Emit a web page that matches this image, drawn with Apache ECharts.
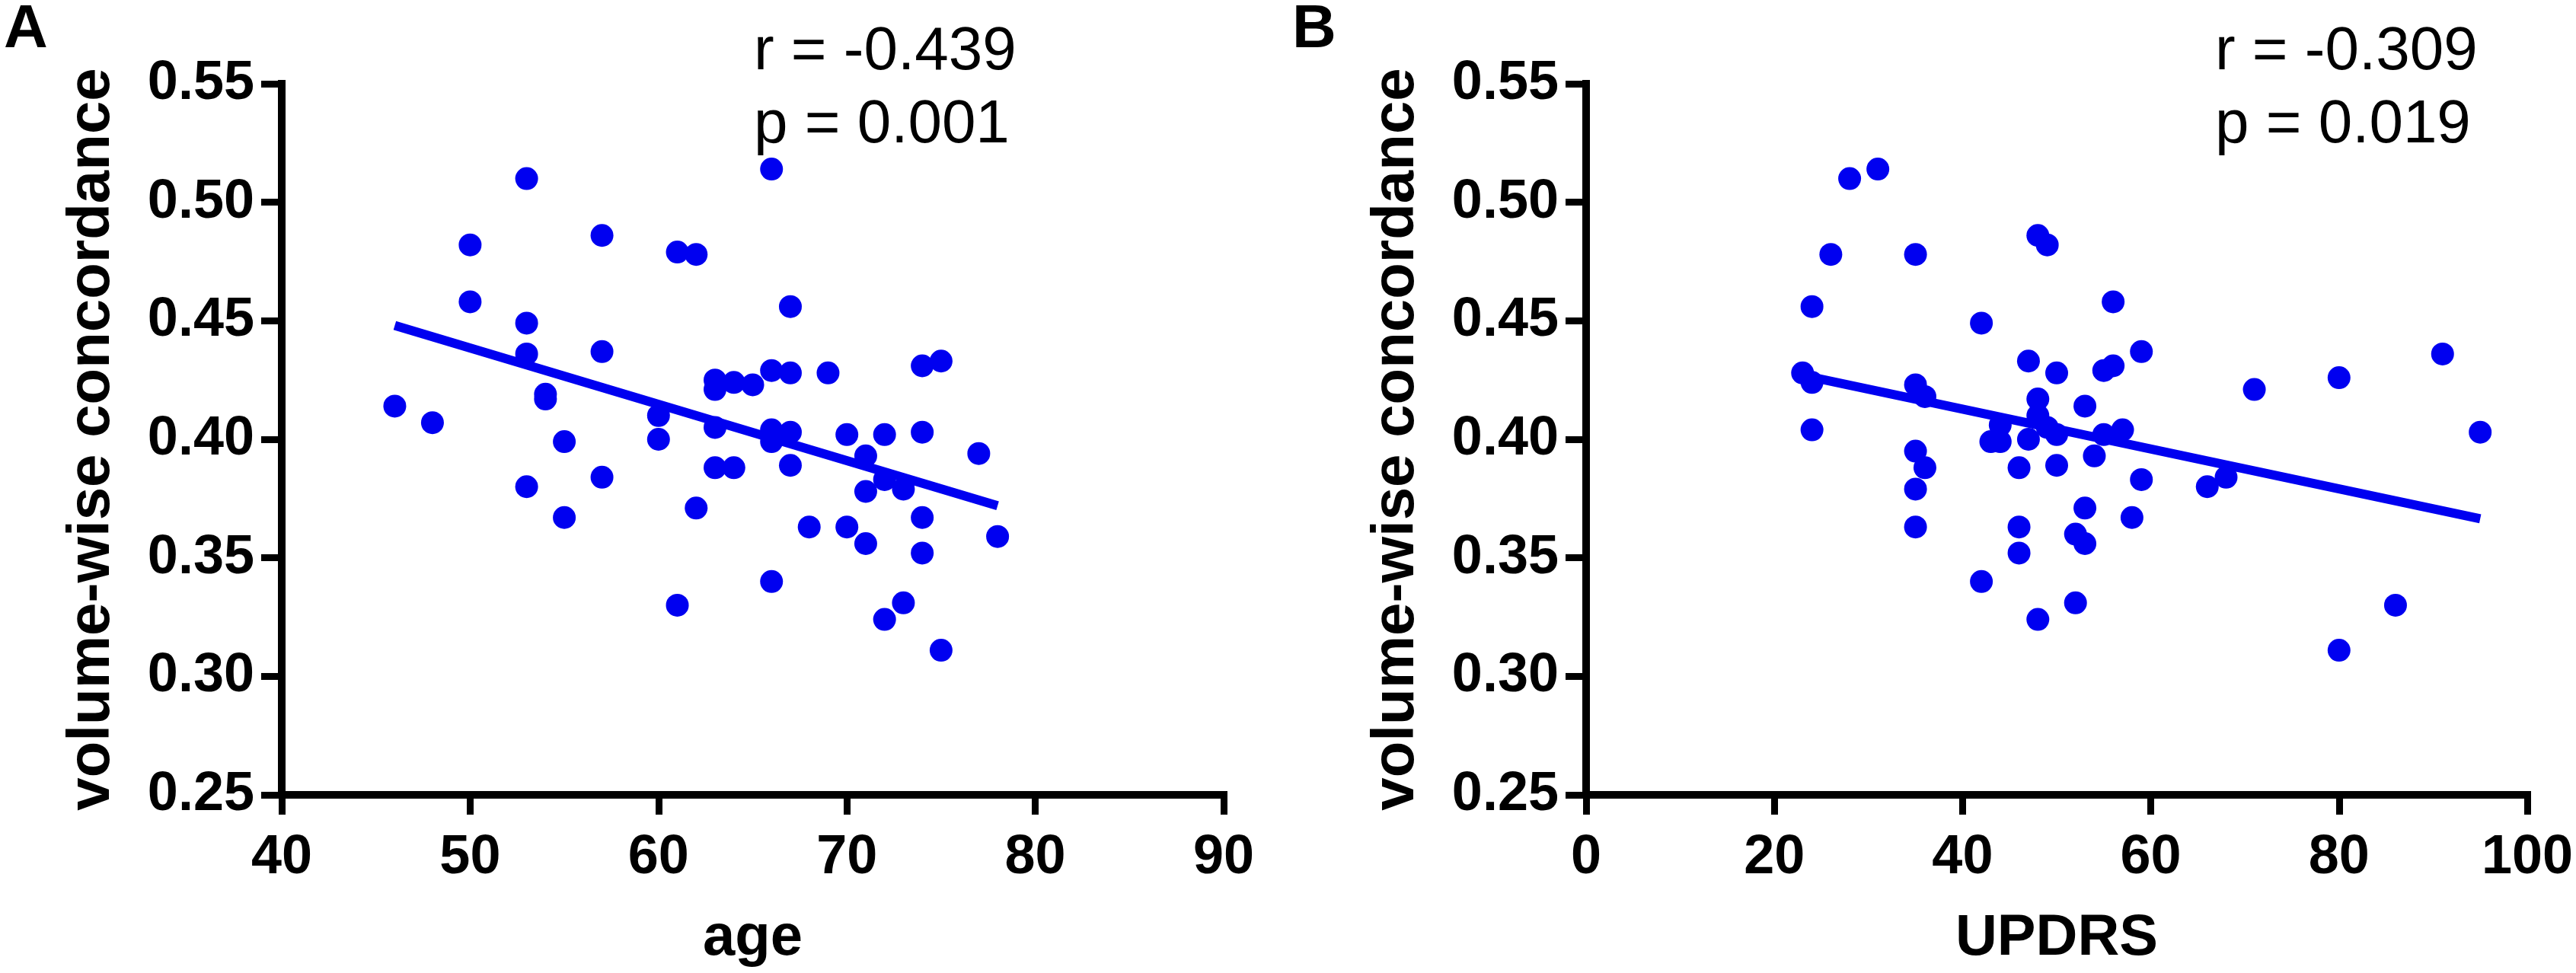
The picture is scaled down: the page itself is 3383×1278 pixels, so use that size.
<!DOCTYPE html>
<html>
<head>
<meta charset="utf-8">
<script src="https://cdn.jsdelivr.net/npm/echarts@6/dist/echarts.min.js"></script>
<style>
  html, body { margin: 0; padding: 0; background: #ffffff; }
  #chart { width: 3383px; height: 1278px; }
</style>
</head>
<body>
<div id="chart"></div>
<script>
// Panel A: age vs volume-wise concordance
const ageA = [46, 48, 50, 50, 53, 53, 53, 53, 54, 54, 55, 55, 57, 57, 57, 60, 60, 61, 61, 62, 62,
  63, 63, 63, 63, 64, 64, 65, 66, 66, 66, 66, 66, 67, 67, 67, 67, 68, 69, 70, 70, 71, 71, 71,
  72, 72, 72, 73, 73, 74, 74, 74, 74, 75, 75, 77, 78];
const concordA = [0.414, 0.407, 0.482, 0.458, 0.510, 0.449, 0.436, 0.380, 0.419, 0.417, 0.399, 0.367,
  0.486, 0.437, 0.384, 0.410, 0.400, 0.479, 0.330, 0.478, 0.371,
  0.425, 0.421, 0.405, 0.388, 0.424, 0.388, 0.423, 0.514, 0.429, 0.404, 0.399, 0.340,
  0.456, 0.428, 0.403, 0.389, 0.363, 0.428, 0.402, 0.363, 0.393, 0.378, 0.356,
  0.402, 0.383, 0.324, 0.379, 0.331, 0.431, 0.403, 0.367, 0.352, 0.433, 0.311, 0.394, 0.359];
const fitA = [[46, 0.448], [78, 0.372]];
const statsA = ['r = -0.439', 'p = 0.001'];

// Panel B: UPDRS vs volume-wise concordance
const updrsB = [23, 24, 24, 24, 26, 28, 31, 35, 35, 36, 35, 36, 35, 35, 42, 42, 43, 44, 44,
  46, 46, 46, 47, 47, 48, 49, 48, 48, 49, 48, 50, 50, 50, 52, 52, 53, 53, 53, 54,
  55, 56, 55, 56, 57, 58, 59, 59, 66, 68, 71, 80, 80, 86, 91, 95];
const concordB = [0.428, 0.424, 0.404, 0.456, 0.478, 0.510, 0.514, 0.478, 0.423, 0.418, 0.395, 0.388,
  0.379, 0.363, 0.449, 0.340, 0.399, 0.399, 0.406,
  0.388, 0.363, 0.352, 0.433, 0.400, 0.486, 0.482, 0.417, 0.410, 0.405, 0.324, 0.428, 0.402, 0.389,
  0.360, 0.331, 0.414, 0.371, 0.356, 0.393,
  0.429, 0.431, 0.402, 0.458, 0.404, 0.367, 0.437, 0.383, 0.380, 0.384, 0.421, 0.426, 0.311, 0.330, 0.436, 0.403];
const fitB = [[23, 0.427], [95, 0.3665]];
const statsB = ['r = -0.309', 'p = 0.019'];

const panelLetters = ['A', 'B'];
const xTitles = ['age', 'UPDRS'];
const yTitle = 'volume-wise concordance';

const FONT = '"Liberation Sans", Arial, Helvetica, sans-serif';
const BLUE = '#0000f0';

function pairs(xs, ys) { return xs.map((x, i) => [x, ys[i]]); }

function xAxisCfg(idx, min, max, interval, name) {
  return {
    type: 'value', gridIndex: idx, min: min, max: max, interval: interval,
    axisLine: { show: true, lineStyle: { color: '#000', width: 10, cap: 'square' } },
    axisTick: { show: true, length: 26, lineStyle: { color: '#000', width: 9 } },
    axisLabel: { fontSize: 72, fontWeight: 'bold', color: '#000', fontFamily: FONT, margin: 47 },
    splitLine: { show: false },
    name: name, nameLocation: 'middle', nameGap: 151,
    nameTextStyle: { fontSize: 76, fontWeight: 'bold', color: '#000', fontFamily: FONT }
  };
}
function yAxisCfg(idx) {
  return {
    type: 'value', gridIndex: idx, min: 0.25, max: 0.55, interval: 0.05,
    axisLine: { show: true, lineStyle: { color: '#000', width: 10, cap: 'square' } },
    axisTick: { show: true, length: 27, lineStyle: { color: '#000', width: 9 } },
    axisLabel: { fontSize: 72, fontWeight: 'bold', color: '#000', fontFamily: FONT, margin: 36,
      formatter: v => v.toFixed(2) },
    splitLine: { show: false },
    name: yTitle, nameLocation: 'middle', nameGap: 210,
    nameTextStyle: { fontSize: 78, fontWeight: 'bold', color: '#000', fontFamily: FONT }
  };
}

function textEl(str, x, y, size, weight) {
  return {
    type: 'text', x: x, y: y, z: 100,
    style: { text: str, fontSize: size, fontWeight: weight, fontFamily: FONT, fill: '#000',
      align: 'left', verticalAlign: 'top' }
  };
}

const chart = echarts.init(document.getElementById('chart'), null, { renderer: 'canvas' });
chart.setOption({
  backgroundColor: '#ffffff',
  animation: false,
  grid: [
    { left: 370, top: 110, width: 1237, height: 934, outerBoundsMode: 'none', containLabel: false },
    { left: 2083, top: 110, width: 1236, height: 934, outerBoundsMode: 'none', containLabel: false }
  ],
  xAxis: [xAxisCfg(0, 40, 90, 10, xTitles[0]), xAxisCfg(1, 0, 100, 20, xTitles[1])],
  yAxis: [yAxisCfg(0), yAxisCfg(1)],
  series: [
    { type: 'scatter', xAxisIndex: 0, yAxisIndex: 0, data: pairs(ageA, concordA),
      symbol: 'circle', symbolSize: 30, itemStyle: { color: BLUE, opacity: 1 } },
    { type: 'line', xAxisIndex: 0, yAxisIndex: 0, data: fitA, showSymbol: false, clip: false,
      lineStyle: { color: BLUE, width: 12 }, z: 3 },
    { type: 'scatter', xAxisIndex: 1, yAxisIndex: 1, data: pairs(updrsB, concordB),
      symbol: 'circle', symbolSize: 30, itemStyle: { color: BLUE, opacity: 1 } },
    { type: 'line', xAxisIndex: 1, yAxisIndex: 1, data: fitB, showSymbol: false, clip: false,
      lineStyle: { color: BLUE, width: 12 }, z: 3 }
  ],
  graphic: [
    textEl(panelLetters[0], 5, 0, 80, 'bold'),
    textEl(panelLetters[1], 1697, 0, 80, 'bold'),
    textEl(statsA[0], 990, 29, 80, 'normal'),
    textEl(statsA[1], 990, 125, 80, 'normal'),
    textEl(statsB[0], 2909, 29, 80, 'normal'),
    textEl(statsB[1], 2909, 125, 80, 'normal')
  ]
});
</script>
</body>
</html>
